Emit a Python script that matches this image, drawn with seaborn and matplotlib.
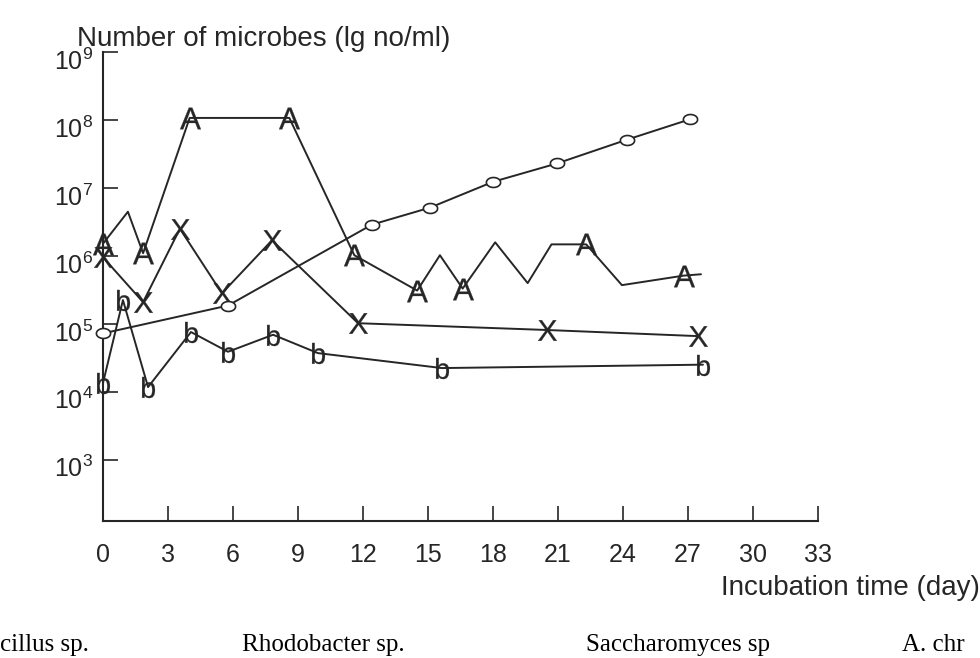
import numpy as np
import pandas as pd
import matplotlib
matplotlib.use("Agg")
import matplotlib.pyplot as plt
import seaborn as sns
from matplotlib.transforms import ScaledTranslation

# ---------------- data (lg no/ml) ----------------
days_A = [0, 1.15, 1.85, 4.0, 8.6, 11.6, 14.5, 15.55, 16.6, 18.1, 19.6, 20.7, 22.3, 23.95, 26.8, 27.6]
lg_A = [6.18, 6.65, 6.04, 8.03, 8.03, 6.01, 5.49, 6.01, 5.52, 6.20, 5.60, 6.17, 6.17, 5.57, 5.71, 5.73]
mark_A = [1, 0, 1, 1, 1, 1, 1, 0, 1, 0, 0, 0, 1, 0, 1, 0]

days_X = [0, 1.85, 3.55, 5.49, 7.8, 11.77, 20.5, 27.46]
lg_X = [5.98, 5.32, 6.40, 5.45, 6.23, 5.01, 4.91, 4.82]
mark_X = [1, 1, 1, 1, 1, 1, 1, 1]

days_o = [0, 5.77, 12.41, 15.09, 18.0, 20.95, 24.18, 27.09]
lg_o = [4.86, 5.27, 6.46, 6.71, 7.09, 7.36, 7.71, 8.01]
mark_o = [1, 1, 1, 1, 1, 1, 1, 1]

days_b = [0, 0.92, 2.08, 4.06, 5.77, 7.85, 9.92, 15.64, 27.69]
lg_b = [4.13, 5.35, 4.07, 4.88, 4.59, 4.84, 4.57, 4.35, 4.40]
mark_b = [1, 1, 1, 1, 1, 1, 1, 1, 1]

x_ticks = [0, 3, 6, 9, 12, 15, 18, 21, 24, 27, 30, 33]
y_ticks = [3, 4, 5, 6, 7, 8, 9]
y_ticklabels = [r"$10^{%d}$" % v for v in y_ticks]

y_title = "Number of microbes (lg no/ml)"
x_title = "Incubation time (day)"
bottom_labels = ["cillus sp.", "Rhodobacter sp.", "Saccharomyces sp", "A. chr"]

# ---------------- style ----------------
sns.set_theme(style="white")
plt.rcParams["font.family"] = ["Liberation Sans", "DejaVu Sans"]
plt.rcParams["mathtext.fontset"] = "custom"
plt.rcParams["mathtext.rm"] = "Liberation Sans"
plt.rcParams["mathtext.it"] = "Liberation Sans"
plt.rcParams["mathtext.bf"] = "Liberation Sans:bold"
plt.rcParams["mathtext.default"] = "regular"

INK = "#262626"
W, H = 980, 658
fig = plt.figure(figsize=(W / 100, H / 100), dpi=100)
fig.patch.set_facecolor("white")
ax = fig.add_axes([103 / W, 1 - 521 / H, (818 - 103) / W, (521 - 52) / H])
ax.set_facecolor("white")

theta = np.linspace(0, 2 * np.pi, 41)
ellipse = list(zip(np.cos(theta), 0.7 * np.sin(theta)))

series = [
    (days_A, lg_A, mark_A, r"$A$", 240, INK),
    (days_X, lg_X, mark_X, r"$X$", 220, INK),
    (days_o, lg_o, mark_o, ellipse, 105, "white"),
    (days_b, lg_b, mark_b, r"$b$", 230, INK),
]

for d, v, m, mk, s, fc in series:
    df = pd.DataFrame({"day": d, "lg": v, "mark": m})
    sns.lineplot(data=df, x="day", y="lg", estimator=None, sort=False,
                 color=INK, lw=1.4, ax=ax, zorder=2)
    sub = df[df["mark"] == 1]
    sns.scatterplot(data=sub, x="day", y="lg", marker=mk, s=s,
                    facecolor=fc, edgecolor=INK,
                    linewidth=1.2 if fc == "white" else 0.2,
                    ax=ax, zorder=3, clip_on=False)

ax.set_xlim(0, 33)
ax.set_ylim(2.1, 9.0)
ax.set_xticks(x_ticks)
ax.set_xticklabels([str(t) for t in x_ticks])
ax.set_yticks(y_ticks)
ax.set_yticklabels(y_ticklabels)
ax.set_xlabel("")
ax.set_ylabel("")
ax.grid(False)

for side in ["top", "right"]:
    ax.spines[side].set_visible(False)
for side in ["left", "bottom"]:
    ax.spines[side].set_color(INK)
    ax.spines[side].set_linewidth(1.5)

ax.tick_params(axis="x", which="major", bottom=True, direction="in",
               length=11, width=1.2, color=INK,
               labelsize=18, labelcolor=INK, pad=16)
ax.tick_params(axis="y", which="major", left=True, direction="in",
               length=11, width=1.2, color=INK,
               labelsize=18, labelcolor=INK, pad=7)
shift = ScaledTranslation(0, -5 / 72, fig.dpi_scale_trans)
for lab in ax.get_yticklabels():
    lab.set_transform(lab.get_transform() + shift)

fig.text(77 / W, 1 - 46 / H, y_title, ha="left", va="baseline",
         fontsize=20, color=INK)
fig.text(980 / W, 1 - 595 / H, x_title, ha="right", va="baseline",
         fontsize=20, color=INK)

serif = ["Liberation Serif", "DejaVu Serif"]
bx = [0, 242, 586, 902]
for x, t in zip(bx, bottom_labels):
    fig.text(x / W, 1 - 651 / H, t, ha="left", va="baseline",
             fontsize=18, family=serif, color="black")

fig.savefig("out.png", dpi=100, facecolor="white")
